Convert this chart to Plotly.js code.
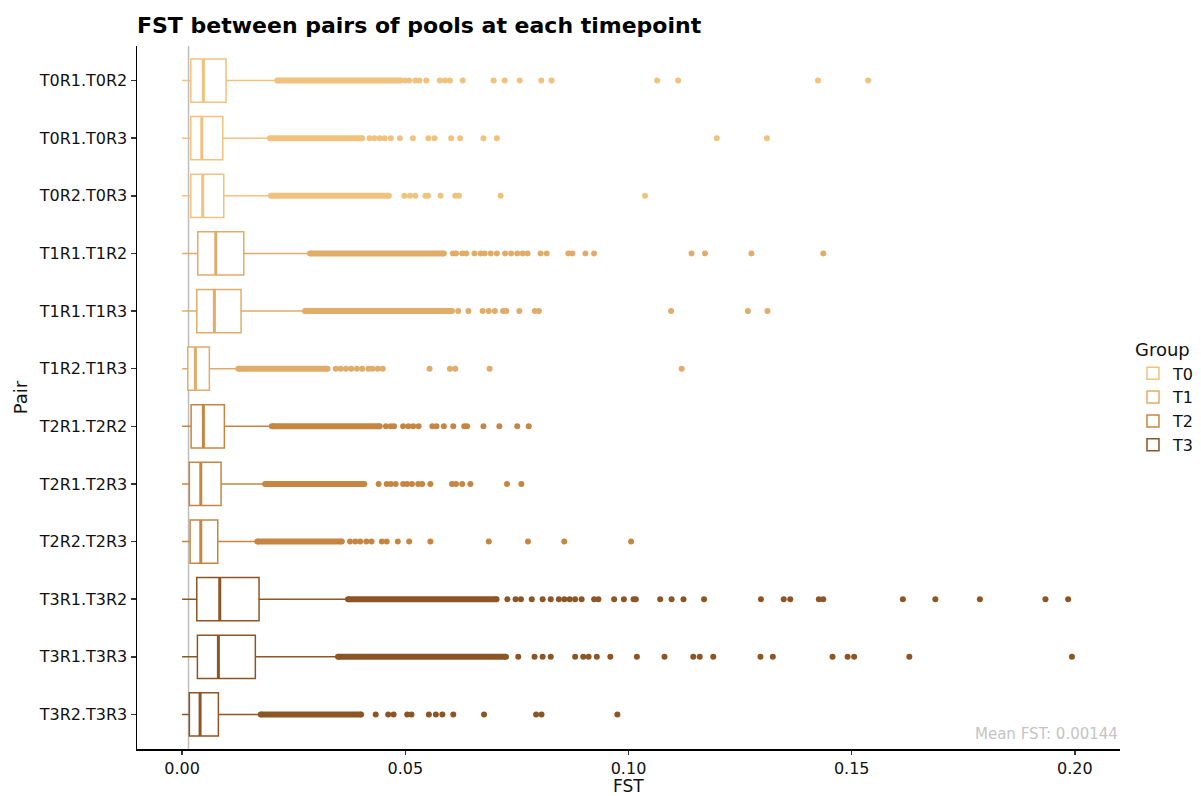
<!DOCTYPE html>
<html>
<head>
<meta charset="utf-8">
<script src="https://cdn.plot.ly/plotly-3.0.1.min.js"></script>
<style>html,body{margin:0;padding:0;background:#fff;}#chart{width:1201px;height:796px;}</style>
</head>
<body>
<div id="chart"></div>
<script>
// ---- data ----
const pairs = ['T0R1.T0R2','T0R1.T0R3','T0R2.T0R3','T1R1.T1R2','T1R1.T1R3','T1R2.T1R3',
               'T2R1.T2R2','T2R1.T2R3','T2R2.T2R3','T3R1.T3R2','T3R1.T3R3','T3R2.T3R3'];
const pairGroup = ['T0','T0','T0','T1','T1','T1','T2','T2','T2','T3','T3','T3'];
const groupNames = ['T0','T1','T2','T3'];
const groupColors = ['#F1C27D','#E0AC69','#C68642','#8D5524'];

const lowerFence = [0,0,0,0,0,0,0,0,0,0,0,0];
const q1     = [0.00195,0.00195,0.00195,0.00352,0.00329,0.00128,0.00202,0.00163,0.00179,0.00329,0.00343,0.00163];
const median = [0.00477,0.00441,0.00463,0.00755,0.00723,0.00298,0.00477,0.00419,0.00419,0.00844,0.00813,0.00403];
const q3     = [0.00985,0.00911,0.00934,0.01382,0.01321,0.00611,0.00947,0.00873,0.00799,0.01724,0.01641,0.00813];
const upperFence = [0.0213,0.0197,0.0199,0.02866,0.02754,0.0126,0.0201,0.0186,0.01686,0.03717,0.03493,0.01762];

// dense runs of overlapping outliers (from, to)
const denseFrom = [0.0213,0.0197,0.0199,0.02866,0.02754,0.0126,0.0201,0.0186,0.01686,0.03717,0.03493,0.01762];
const denseTo   = [0.0490,0.04035,0.04631,0.05864,0.06046,0.0326,0.04429,0.04082,0.03578,0.07044,0.07255,0.04010];

// isolated outliers
const outliers = [
  [0.04996,0.05087,0.05224,0.05316,0.05470,0.05773,0.05891,0.06001,0.06285,0.06979,0.07226,0.07564,0.08047,0.08276,0.10643,0.11111,0.14245,0.15369],
  [0.04201,0.04310,0.04429,0.04539,0.04675,0.04877,0.05170,0.05517,0.05654,0.06028,0.06229,0.06751,0.07051,0.11977,0.13101],
  [0.04978,0.05105,0.05224,0.05452,0.05508,0.05790,0.06120,0.06202,0.07134,0.10370],
  [0.06066,0.06137,0.06274,0.06366,0.06550,0.06686,0.06778,0.06914,0.07051,0.07235,0.07371,0.07508,0.07629,0.07739,0.08030,0.08166,0.08652,0.08742,0.09035,0.09228,0.11411,0.11713,0.12754,0.14364],
  [0.06185,0.06413,0.06733,0.06870,0.07006,0.07190,0.07262,0.07555,0.07902,0.07994,0.10954,0.12674,0.13113],
  [0.03442,0.03551,0.03670,0.03789,0.03916,0.04035,0.04174,0.04263,0.04384,0.04494,0.05544,0.06001,0.06120,0.06888,0.11191],
  [0.04566,0.04675,0.04749,0.04951,0.05069,0.05179,0.05298,0.05607,0.05699,0.05864,0.06075,0.06321,0.06384,0.06751,0.07107,0.07508,0.07765],
  [0.04402,0.04584,0.04675,0.04785,0.04951,0.05040,0.05150,0.05289,0.05378,0.05562,0.06046,0.06137,0.06274,0.06458,0.07279,0.07600],
  [0.03762,0.03880,0.03990,0.04127,0.04245,0.04474,0.04584,0.04832,0.05087,0.05562,0.06870,0.07748,0.08560,0.10058],
  [0.07288,0.07470,0.07591,0.07833,0.08077,0.08258,0.08439,0.08563,0.08683,0.08804,0.08950,0.09230,0.09326,0.09678,0.09897,0.10114,0.10164,0.10710,0.10965,0.11232,0.11693,0.12967,0.13477,0.13623,0.14265,0.14362,0.16146,0.16874,0.17871,0.19340,0.19848],
  [0.07530,0.07895,0.08077,0.08258,0.08804,0.08986,0.09107,0.09290,0.09593,0.10188,0.10806,0.11451,0.11596,0.11899,0.12956,0.13233,0.14570,0.14908,0.15054,0.16292,0.19933],
  [0.04337,0.04617,0.04738,0.05043,0.05139,0.05528,0.05685,0.05831,0.06075,0.06764,0.07931,0.08052,0.09751]
];
const meanFST = 0.00144;
const xTickVals = [0, 0.05, 0.10, 0.15, 0.20];
const xTickText = ['0.00','0.05','0.10','0.15','0.20'];

// ---- build traces ----
const FONT = 'DejaVu Sans, Liberation Sans, sans-serif';
const BOXW = 0.75;
const traces = [];
groupNames.forEach((g, gi) => {
  const idx = pairs.map((p, i) => i).filter(i => pairGroup[i] === g);
  const col = groupColors[gi];
  // dense outlier runs
  const dx = [], dy = [];
  idx.forEach(i => { dx.push(denseFrom[i], denseTo[i], null); dy.push(i, i, null); });
  traces.push({type:'scatter', mode:'lines+markers', x:dx, y:dy, showlegend:false, hoverinfo:'skip',
    line:{color:col, width:6}, marker:{color:col, size:6}});
  // isolated outliers
  const ox = [], oy = [];
  idx.forEach(i => outliers[i].forEach(v => { ox.push(v); oy.push(i); }));
  traces.push({type:'scatter', mode:'markers', x:ox, y:oy, showlegend:false,
    marker:{color:col, size:6, line:{width:0}}});
  // boxes
  traces.push({type:'box', orientation:'h', name:g, legendgroup:g,
    y: idx, q1: idx.map(i=>q1[i]), median: idx.map(i=>median[i]), q3: idx.map(i=>q3[i]),
    lowerfence: idx.map(i=>lowerFence[i]), upperfence: idx.map(i=>upperFence[i]),
    width: BOXW, whiskerwidth: 0, boxpoints:false,
    fillcolor:'#ffffff', line:{color:col, width:1.5}, marker:{color:col}});
  // thicker median lines
  const mx = [], my = [];
  idx.forEach(i => { mx.push(median[i], median[i], null); my.push(i - BOXW/2, i + BOXW/2, null); });
  traces.push({type:'scatter', mode:'lines', x:mx, y:my, showlegend:false, hoverinfo:'skip',
    line:{color:col, width:3}});
});

const layout = {
  width:1201, height:796,
  margin:{l:137, r:81, t:46, b:47, autoexpand:false},
  paper_bgcolor:'#ffffff', plot_bgcolor:'#ffffff',
  font:{family:FONT, color:'#111111', size:16},
  title:{text:'FST between pairs of pools at each timepoint', x:0, xref:'paper', xanchor:'left',
    y:1-25/796, yref:'container', yanchor:'middle',
    font:{family:FONT, size:22, weight:'bold', color:'#000000'}},
  showlegend:true,
  legend:{title:{text:'Group', font:{size:18, color:'#111'}}, x:1.0132, xanchor:'left', y:0.5, yanchor:'middle',
    font:{size:16, color:'#111'}, traceorder:'normal', itemwidth:30, tracegroupgap:0},
  xaxis:{range:[-0.0101, 0.2101], tickvals:xTickVals, ticktext:xTickText, showgrid:false, zeroline:false,
    showline:true, linecolor:'#000', linewidth:1.5, ticks:'outside', ticklen:4, tickcolor:'#333', tickwidth:1.5,
    tickfont:{size:16, color:'#111'}},
  yaxis:{range:[11.6, -0.6], tickvals:pairs.map((p,i)=>i), ticktext:pairs, showgrid:false, zeroline:false,
    showline:true, linecolor:'#000', linewidth:1.5, ticks:'outside', ticklen:5, tickcolor:'#333', tickwidth:1.5,
    tickfont:{size:16, color:'#111'},
    title:{text:'Pair', font:{size:18, color:'#111'}, standoff:6}},
  shapes:[{type:'line', xref:'x', yref:'paper', x0:meanFST, x1:meanFST, y0:0, y1:1,
    line:{color:'#bdbdbd', width:1.5}, layer:'below'}],
  annotations:[
    {text:'Mean FST: 0.00144', xref:'paper', yref:'paper', x:1, y:0, xanchor:'right', yanchor:'bottom',
     yshift:4, showarrow:false, font:{size:15, color:'#c4c4c4'}},
    {text:'FST', xref:'paper', yref:'paper', x:0.5, y:0, xanchor:'center', yanchor:'top',
     yshift:-25, showarrow:false, font:{size:17, color:'#111'}}
  ]
};

Plotly.newPlot('chart', traces, layout, {displayModeBar:false, staticPlot:true});
</script>
</body>
</html>
